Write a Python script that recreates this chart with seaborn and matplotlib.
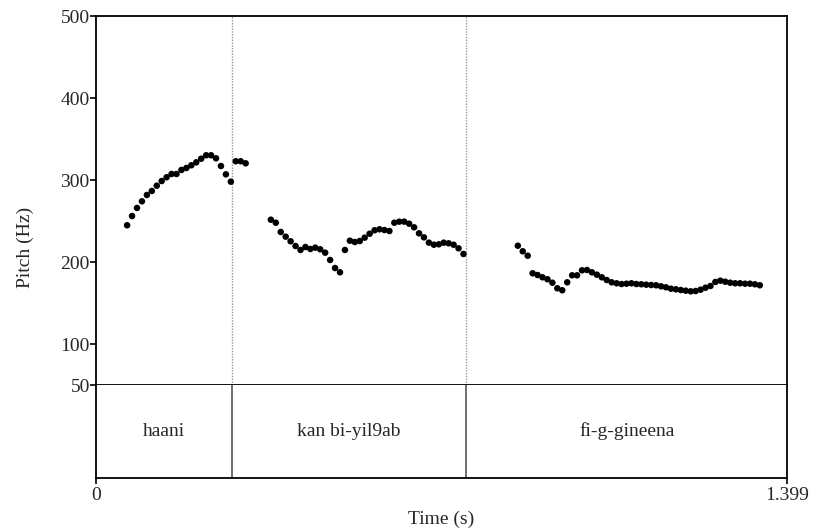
import matplotlib
matplotlib.use("Agg")
import matplotlib.pyplot as plt
import seaborn as sns
import pandas as pd

# ---- data ----
seg1_time = [0.063, 0.073, 0.083, 0.093, 0.103, 0.113, 0.123, 0.133, 0.143, 0.153,
             0.163, 0.173, 0.183, 0.193, 0.203, 0.213, 0.223, 0.233, 0.243, 0.253,
             0.263, 0.273, 0.283, 0.293, 0.303]
seg1_pitch = [245.0, 256.3, 266.1, 274.2, 281.9, 286.8, 293.2, 298.9, 303.5, 307.5,
              307.5, 312.4, 314.8, 318.1, 321.7, 326.1, 330.3, 330.3, 326.6, 317.2,
              307.1, 298.1, 323.0, 323.0, 320.5]

seg2_time = [0.354, 0.364, 0.374, 0.384, 0.394, 0.404, 0.414, 0.424, 0.434, 0.444,
             0.454, 0.464, 0.474, 0.484, 0.494, 0.504, 0.514, 0.524, 0.534, 0.544,
             0.554, 0.564, 0.574, 0.584, 0.594, 0.604, 0.614, 0.624, 0.634, 0.644,
             0.654, 0.664, 0.674, 0.684, 0.694, 0.704, 0.714, 0.724, 0.734, 0.744]
seg2_pitch = [251.8, 248.1, 236.8, 231.1, 225.5, 219.7, 214.9, 218.5, 216.1, 217.7,
              215.7, 211.6, 202.7, 192.9, 187.7, 214.9, 226.2, 224.6, 225.8, 229.9,
              234.7, 238.9, 240.1, 239.2, 238.0, 248.1, 249.4, 249.4, 246.9, 242.5,
              235.2, 230.3, 223.8, 221.3, 221.8, 223.8, 223.0, 221.3, 216.9, 210.0]

seg3_time = [0.854, 0.864, 0.874, 0.884, 0.894, 0.904, 0.914, 0.924, 0.934, 0.944,
             0.954, 0.964, 0.974, 0.984, 0.994, 1.004, 1.014, 1.024, 1.034, 1.044,
             1.054, 1.064, 1.074, 1.084, 1.094, 1.104, 1.114, 1.124, 1.134, 1.144,
             1.154, 1.164, 1.174, 1.184, 1.194, 1.204, 1.214, 1.224, 1.234, 1.244,
             1.254, 1.264, 1.274, 1.284, 1.294, 1.304, 1.314, 1.324, 1.334, 1.344]
seg3_pitch = [220.1, 213.3, 207.9, 186.5, 184.4, 181.6, 179.2, 175.0, 168.2, 165.8,
              175.5, 184.0, 184.0, 190.1, 190.5, 187.7, 184.8, 181.6, 178.3, 175.5,
              174.3, 173.4, 173.8, 174.3, 173.4, 173.1, 172.6, 172.2, 171.9, 170.6,
              169.4, 167.7, 167.0, 166.1, 165.3, 164.5, 164.9, 166.5, 168.9, 171.0,
              175.9, 177.5, 176.2, 175.0, 174.3, 174.3, 173.8, 173.8, 173.1, 171.9]

boundaries = [0.275, 0.750]
interval_labels = ["haani", "kan bi-yil9ab", "fi-g-gineena"]
interval_edges = [0.0, 0.275, 0.750, 1.399]
y_ticks = [500, 400, 300, 200, 100, 50]
x_ticks = [0, 1.399]
x_tick_labels = ["0", "1.399"]

# ---- figure ----
sns.set_style("ticks")
plt.rcParams["font.family"] = ["Liberation Serif", "DejaVu Serif"]
FS = 14
plt.rcParams["font.size"] = FS

fig = plt.figure(figsize=(8.14, 5.30), dpi=100)
ax = fig.add_axes([0.11794, 0.27302, 0.84889, 0.69679])
axt = fig.add_axes([0.11794, 0.09868, 0.84889, 0.17434])

df = pd.DataFrame({
    "time": seg1_time + seg2_time + seg3_time,
    "pitch": seg1_pitch + seg2_pitch + seg3_pitch,
})
sns.scatterplot(data=df, x="time", y="pitch", ax=ax, color="black",
                s=22, edgecolor="none", linewidth=0, legend=False)

ax.set_xlim(0, 1.399)
ax.set_ylim(50, 500)
ax.set_yticks(y_ticks)
ax.set_yticklabels([str(v) for v in y_ticks])
ax.set_xticks([])
ax.set_xlabel("")
ax.set_ylabel("Pitch (Hz)", fontsize=FS)
ax.yaxis.label.set_va("center")
ax.yaxis.set_label_coords(-0.1027, 0.3745)
ax.tick_params(axis="y", direction="out", length=4.5, width=1.2, pad=0,
               labelsize=FS, color="black")
for b in boundaries:
    ax.axvline(b, color="#999999", linestyle=(0, (1, 1)), linewidth=1.0, zorder=0)
for sp in ax.spines.values():
    sp.set_visible(True)
    sp.set_linewidth(1.3)
    sp.set_color("black")

axt.set_xlim(0, 1.399)
axt.set_ylim(0, 1)
axt.set_yticks([])
axt.set_xticks(x_ticks)
axt.set_xticklabels(x_tick_labels)
axt.tick_params(axis="x", direction="out", length=4, width=1.2, pad=3,
                labelsize=FS, color="black")
axt.set_xlabel("Time (s)", fontsize=FS, labelpad=4.5)
for b in boundaries:
    axt.axvline(b, color="#555555", linewidth=1.2)
for lab, a, c in zip(interval_labels, interval_edges[:-1], interval_edges[1:]):
    axt.text((a + c) / 2, 0.5, lab, ha="center", va="center", fontsize=FS)
for sp in axt.spines.values():
    sp.set_visible(True)
    sp.set_linewidth(1.3)
    sp.set_color("black")
axt.spines["top"].set_visible(False)

fig.savefig("out.png", dpi=100)
